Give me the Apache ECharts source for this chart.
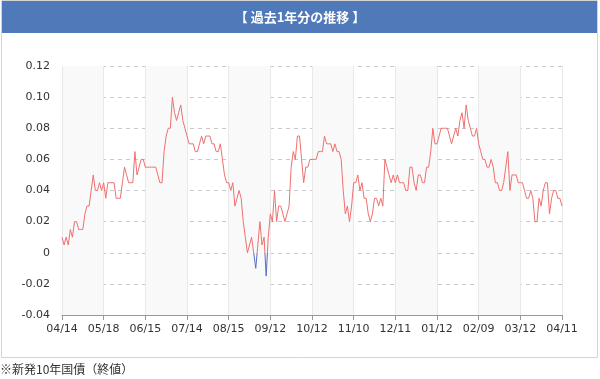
<!DOCTYPE html>
<html><head><meta charset="utf-8">
<script src="https://cdn.jsdelivr.net/npm/echarts@6/dist/echarts.min.js"></script>
<style>html,body{margin:0;padding:0;background:#fff}#c{width:600px;height:379px}</style>
</head><body><div id="c"></div>
<script>
const titleText = '【 過去1年分の推移 】';
const footText = '※新発10年国債（終値）';
const tickLabels = ['04/14','05/18','06/15','07/14','08/15','09/12','10/12','11/10','12/11','01/12','02/09','03/12','04/11'];
const yields = [
 0.010,0.005,0.010,0.005,0.015,0.010,0.020,0.020,0.015,0.015,
 0.015,0.025,0.030,0.030,0.040,0.050,0.040,0.040,0.045,0.040,
 0.045,0.035,0.045,0.045,0.045,0.045,0.035,0.035,0.035,0.045,
 0.055,0.050,0.045,0.045,0.045,0.065,0.050,0.055,0.060,0.060,
 0.055,0.055,0.055,0.055,0.055,0.055,0.050,0.045,0.045,0.065,
 0.075,0.080,0.080,0.100,0.090,0.085,0.090,0.095,0.085,0.080,
 0.075,0.070,0.070,0.070,0.065,0.065,0.070,0.075,0.070,0.075,
 0.075,0.075,0.070,0.070,0.065,0.065,0.070,0.060,0.050,0.045,
 0.045,0.040,0.045,0.030,0.035,0.040,0.035,0.020,0.010,0.000,
 0.005,0.010,0.000,-0.010,0.005,0.020,0.005,0.010,-0.015,0.010,
 0.025,0.020,0.040,0.020,0.030,0.030,0.025,0.020,0.025,0.030,
 0.055,0.065,0.060,0.075,0.075,0.060,0.045,0.055,0.055,0.060,
 0.060,0.060,0.060,0.065,0.065,0.065,0.075,0.070,0.070,0.070,
 0.065,0.070,0.065,0.065,0.060,0.040,0.025,0.030,0.020,0.030,
 0.045,0.045,0.050,0.040,0.045,0.035,0.035,0.025,0.020,0.025,
 0.035,0.035,0.030,0.035,0.030,0.060,0.055,0.050,0.045,0.050,
 0.045,0.050,0.045,0.045,0.045,0.040,0.040,0.055,0.055,0.045,
 0.040,0.050,0.050,0.045,0.045,0.055,0.055,0.065,0.080,0.070,
 0.070,0.075,0.080,0.080,0.080,0.080,0.075,0.070,0.075,0.080,
 0.075,0.085,0.090,0.080,0.095,0.085,0.080,0.075,0.075,0.080,
 0.070,0.065,0.060,0.060,0.055,0.055,0.060,0.055,0.045,0.045,
 0.040,0.040,0.045,0.055,0.065,0.040,0.050,0.050,0.050,0.045,
 0.045,0.045,0.040,0.035,0.035,0.040,0.035,0.020,0.020,0.035,
 0.030,0.040,0.045,0.045,0.025,0.035,0.040,0.040,0.035,0.035,
 0.030
];
const step = 20;
const categories = yields.map((_, i) => String(i));

const chart = echarts.init(document.getElementById('c'));
chart.setOption({
  animation: false,
  graphic: [
    { type: 'rect', shape: { x: 1.5, y: 0.5, width: 596, height: 357 }, style: { fill: '#fff', stroke: '#d4d4d4', lineWidth: 1 }, z: -10 },
    { type: 'rect', shape: { x: 2, y: 1, width: 595, height: 32 }, style: { fill: '#4f79b8' }, z: -9 },
    { type: 'text', x: 300, y: 17, style: { text: titleText, fill: '#fff', font: 'bold 13px "Noto Sans CJK JP", sans-serif', align: 'center', verticalAlign: 'middle' } },
    { type: 'text', x: 0, y: 369, style: { text: footText, fill: '#333', font: '12px "Noto Sans CJK JP", sans-serif', align: 'left', verticalAlign: 'middle' } }
  ],
  grid: { left: 62, right: 38, top: 66, bottom: 64 },
  xAxis: {
    type: 'category',
    data: categories,
    boundaryGap: false,
    axisLine: { onZero: false, lineStyle: { color: '#999' } },
    axisTick: { interval: step - 1, length: 5, lineStyle: { color: '#999' } },
    axisLabel: {
      interval: step - 1, color: '#333', fontSize: 11, fontFamily: 'DejaVu Sans', margin: 9,
      formatter: (v, i) => tickLabels[i / step] || ''
    },
    splitLine: { show: true, interval: step - 1, lineStyle: { color: '#e8e8e8' } },
    splitArea: { show: true, interval: step - 1, areaStyle: { color: ['#f9f9f9', 'rgba(255,255,255,0)'] } }
  },
  yAxis: {
    type: 'value', min: -0.04, max: 0.12, interval: 0.02,
    axisLine: { show: false }, axisTick: { show: false },
    axisLabel: { color: '#333', fontSize: 11, fontFamily: 'DejaVu Sans', margin: 12,
      formatter: v => Math.abs(v) < 1e-9 ? '0' : v.toFixed(2) },
    splitLine: { lineStyle: { color: '#c8c8c8', type: [4, 4] } }
  },
  visualMap: {
    show: false, type: 'piecewise', seriesIndex: 0, dimension: 1,
    pieces: [{ gte: -1, lt: 0, color: '#5470c6' }, { gte: 0, lte: 1, color: '#ee6f6f' }]
  },
  series: [{
    type: 'line', data: yields, showSymbol: false, symbol: 'none',
    lineStyle: { width: 1 }
  }]
});
</script></body></html>
